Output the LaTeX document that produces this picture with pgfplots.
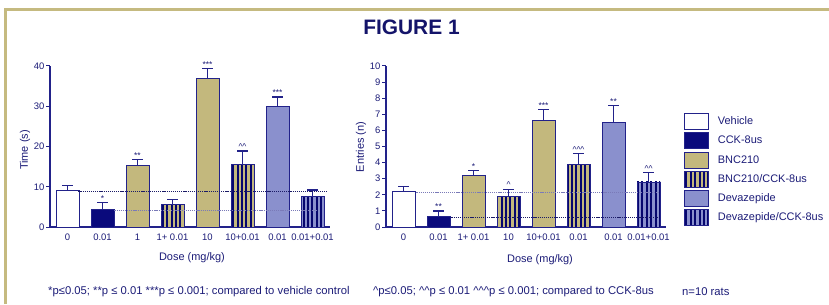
\documentclass[border=0pt]{standalone}
\usepackage{fontspec}
\setmainfont{Liberation Sans}
\usepackage{pgfplots}
\pgfplotsset{compat=1.18}
\usetikzlibrary{patterns.meta}

\definecolor{navy}{HTML}{1C1C78}
\definecolor{titlecol}{HTML}{14146A}
\definecolor{barnavy}{HTML}{0A0A7C}
\definecolor{edge}{HTML}{22228A}
\definecolor{khaki}{HTML}{C3B87D}
\definecolor{lav}{HTML}{8A90CD}
\definecolor{framecol}{HTML}{C5BA80}
\definecolor{lightdot}{HTML}{7A7AB8}
\definecolor{darkdot}{HTML}{1A1A66}
\definecolor{stripe}{HTML}{06066E}

\pgfplotsset{
  mybar/.style={ybar, bar width=23bp, bar shift=0pt, draw=edge, line width=0.8bp,
    /pgfplots/error bars/y dir=plus, /pgfplots/error bars/y explicit,
    /pgfplots/error bars/error bar style={color=edge, line width=1.2bp},
    /pgfplots/error bars/error mark options={rotate=90, mark size=5.5bp, line width=1.2bp, color=edge},
    legend image code/.code={\draw[##1] (0bp,-8bp) rectangle (24bp,8bp); \path (31bp,0bp);}},
  striped/.style={postaction={pattern={Lines[angle=90,distance=4.4bp,line width=2.1bp]}, pattern color=stripe}},
  myaxis/.style={
    scale only axis, width=280bp, height=161bp,
    axis lines=left, axis line style={-, color=edge, line width=1.2bp},
    xmin=-0.5, xmax=7.5, ymin=0,
    xtick={0,...,7}, xtick style={draw=none},
    ytick style={color=edge, line width=1bp}, tick align=outside, major tick length=4bp,
    /pgf/number format/assume math mode=true,
    ticklabel style={font=\fontsize{9.5}{11}\selectfont, text=navy},
    xticklabel style={anchor=center, yshift=-6.5bp},
    yticklabel style={inner sep=1.5bp},
    label style={font=\fontsize{11}{13}\selectfont, text=navy},
    xlabel style={anchor=center},
    ylabel style={anchor=center},
    clip=false,
  },
  sig/.style={only marks, mark=none, point meta=explicit symbolic, nodes near coords,
    nodes near coords align={above},
    every node near coord/.append style={font=\fontsize{8.5}{9}\selectfont, text=navy, inner sep=1bp}},
}

\begin{document}
\begin{tikzpicture}[x=1bp,y=1bp]
\useasboundingbox (0,0) rectangle (829,304);
\fill[white] (0,0) rectangle (829,304);
\draw[framecol, line width=3.5bp] (5.3,0) -- (5.3,294.5) -- (829,294.5);
\node[font=\bfseries\fontsize{21}{24}\selectfont, text=titlecol] at (411.5,277.2) {FIGURE 1};

% ---------------- Left panel ----------------
\begin{axis}[myaxis, at={(50bp,77bp)}, anchor=south west,
  ymax=40, ytick={0,10,20,30,40},
  xticklabels={0,0.01,1,1+ 0.01,10,10+0.01,0.01,0.01+0.01},
  xlabel={Dose (mg/kg)}, ylabel={Time (s)},
  xlabel style={at={(axis description cs:0.507,-0.193)}},
  ylabel style={at={(axis description cs:-0.089,0.478)}},
]
\addplot[mybar, fill=white] coordinates {(0,9.0) +- (0,1.3)};
\addplot[mybar, fill=barnavy] coordinates {(1,4.3) +- (0,1.8)};
\addplot[mybar, fill=khaki] coordinates {(2,15.2) +- (0,1.6)};
\addplot[mybar, fill=khaki, striped] coordinates {(3,5.5) +- (0,1.3)};
\addplot[mybar, fill=khaki] coordinates {(4,36.8) +- (0,2.5)};
\addplot[mybar, fill=khaki, striped] coordinates {(5,15.5) +- (0,3.4)};
\addplot[mybar, fill=lav] coordinates {(6,30.0) +- (0,2.3)};
\addplot[mybar, fill=lav, striped] coordinates {(7,7.6) +- (0,1.6)};
\addplot[darkdot, line width=1bp, dash pattern=on 1.2bp off 0.9bp, forget plot] coordinates {(0.31,8.8) (7.43,8.8)};
\addplot[lightdot, line width=1bp, dash pattern=on 1.2bp off 0.9bp, forget plot] coordinates {(1.34,4.2) (7.14,4.2)};
\addplot[sig] coordinates {(1,6.1) [*] (2,16.8) [**] (4,39.3) [***] (5,18.9) [\textasciicircum\textasciicircum] (6,32.3) [***]};
\end{axis}

% ---------------- Right panel ----------------
\begin{axis}[myaxis, at={(386bp,77bp)}, anchor=south west,
  ymax=10, ytick={0,...,10},
  xticklabels={0,0.01,1+ 0.01,10,10+0.01,0.01,0.01,0.01+0.01},
  xlabel={Dose (mg/kg)}, ylabel={Entries (n)},
  xlabel style={at={(axis description cs:0.55,-0.2)}},
  ylabel style={at={(axis description cs:-0.089,0.497)}},
  legend style={at={(axis description cs:1.064,0.708)}, anchor=north west, draw=none, fill=none,
    font=\fontsize{11}{13}\selectfont, text=navy, row sep=2.4bp, inner sep=0pt},
  legend cell align=left,
]
\addplot[mybar, fill=white] coordinates {(0,2.2) +- (0,0.3)};
\addlegendentry{Vehicle}
\addplot[mybar, fill=barnavy] coordinates {(1,0.65) +- (0,0.35)};
\addlegendentry{CCK-8us}
\addplot[mybar, fill=khaki] coordinates {(2,3.2) +- (0,0.3) (4,6.6) +- (0,0.7)};
\addlegendentry{BNC210}
\addplot[mybar, fill=khaki, striped] coordinates {(3,1.9) +- (0,0.45) (5,3.9) +- (0,0.65)};
\addlegendentry{BNC210/CCK-8us}
\addplot[mybar, fill=lav] coordinates {(6,6.5) +- (0,1.05)};
\addlegendentry{Devazepide}
\addplot[mybar, fill=lav, striped] coordinates {(7,2.8) +- (0,0.58)};
\addlegendentry{Devazepide/CCK-8us}
\addplot[lightdot, line width=1bp, dash pattern=on 1.2bp off 0.9bp, forget plot] coordinates {(0.37,2.15) (7.29,2.15)};
\addplot[darkdot, line width=1bp, dash pattern=on 1.2bp off 0.9bp, forget plot] coordinates {(1.37,0.58) (7.29,0.58)};
\addplot[sig, forget plot] coordinates {(1,1.0) [**] (2,3.5) [*] (3,2.35) [\textasciicircum] (4,7.3) [***] (5,4.55) [\textasciicircum\textasciicircum\textasciicircum] (6,7.55) [**] (7,3.38) [\textasciicircum\textasciicircum]};
\end{axis}

% ---------------- Notes ----------------
\node[anchor=west, font=\fontsize{11.3}{13}\selectfont, text=navy, inner sep=0pt] at (48,12) {*p≤0.05; **p ≤ 0.01 ***p ≤ 0.001; compared to vehicle control};
\node[anchor=west, font=\fontsize{11.3}{13}\selectfont, text=navy, inner sep=0pt] at (373,12) {\textasciicircum p≤0.05; \textasciicircum\textasciicircum p ≤ 0.01 \textasciicircum\textasciicircum\textasciicircum p ≤ 0.001; compared to CCK-8us};
\node[anchor=west, font=\fontsize{11.3}{13}\selectfont, text=navy, inner sep=0pt] at (682,12) {n=10 rats};
\end{tikzpicture}
\end{document}
